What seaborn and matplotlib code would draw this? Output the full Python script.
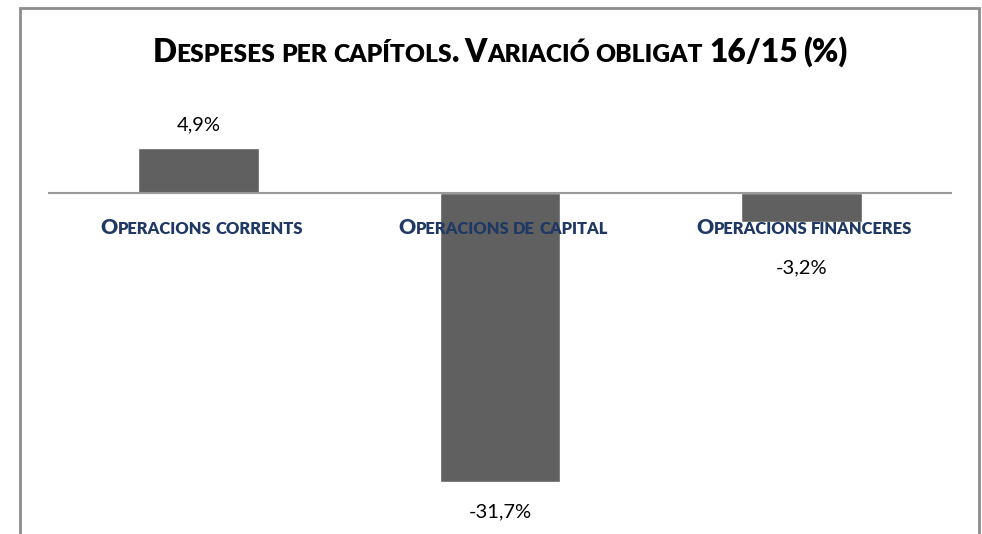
import matplotlib
matplotlib.use("Agg")
import matplotlib.pyplot as plt
import pandas as pd
import seaborn as sns
from matplotlib.patches import Rectangle

categories = ["Operacions corrents", "Operacions de capital", "Operacions financeres"]
values = [4.9, -31.7, -3.2]
value_labels = ["4,9%", "-31,7%", "-3,2%"]
title = "Despeses per capítols. Variació obligat 16/15 (%)"

W, H, DPI = 982, 534, 100
NAVY = "#1F3864"

sns.set_theme(style="white")
plt.rcParams["font.family"] = ["Lato", "DejaVu Sans"]


def text_width(fig, s, size, weight):
    r = fig.canvas.get_renderer()
    t = fig.text(0, 0, s, fontsize=size, weight=weight)
    w = t.get_window_extent(r).width
    t.remove()
    return w


def small_caps(fig, x_px, y_px, text, size, color, ratio=0.78, weight="bold"):
    """Fake small caps: lowercase letters drawn as smaller capitals."""
    tokens = []
    for ch in text:
        if ch == " ":
            kind = "space"
        elif ch.islower():
            kind = "small"
        else:
            kind = "big"
        s = ch.upper() if kind == "small" else ch
        if tokens and tokens[-1][1] == kind and kind != "space":
            tokens[-1][0] += s
        else:
            tokens.append([s, kind])

    small = size * ratio
    space_w = text_width(fig, "I I", small, weight) - text_width(fig, "II", small, weight)
    pieces = []
    total = 0
    for s, kind in tokens:
        fs = small if kind == "small" else size
        w = space_w if kind == "space" else text_width(fig, s, fs, weight)
        pieces.append((s, kind, fs, w))
        total += w

    x = x_px - total / 2
    for s, kind, fs, w in pieces:
        if kind != "space":
            fig.text(x / W, y_px / H, s, fontsize=fs, weight=weight, color=color,
                     ha="left", va="baseline")
        x += w


fig = plt.figure(figsize=(W / DPI, H / DPI), dpi=DPI)
ax = fig.add_axes([48 / W, 1 - 503 / H, 904 / W, 401 / H])

df = pd.DataFrame({"cat": categories, "val": values})
sns.barplot(data=df, x="cat", y="val", color="#606060", saturation=1,
            width=0.4, ax=ax)
ax.set_xlim(-0.5, 2.5)
ax.set_ylim(-34, 10)
ax.axis("off")
ax.axhline(0, color="#9a9a9a", lw=1.5, zorder=3)

# value labels (third one pushed below the category label, as in the source)
label_offsets = [24, -30, -46]
for i, (v, lab) in enumerate(zip(values, value_labels)):
    ax.annotate(lab, xy=(i, v), xytext=(0, label_offsets[i] * 72 / DPI),
                textcoords="offset points", ha="center", va="center",
                fontsize=14.5, color="black")

# category labels just under the zero line
for i, cat in enumerate(categories):
    x_px = ax.transData.transform((i, 0))[0]
    small_caps(fig, x_px + 3, H - 234, cat, 15.2, NAVY, weight="heavy")

small_caps(fig, 500, H - 62, title, 22.7, "black", weight="heavy")

fig.add_artist(Rectangle((20 / W, -0.05), 959 / W, 1.05 - 8 / H,
                         transform=fig.transFigure, fill=False,
                         edgecolor="#8c8c8c", lw=2))

fig.savefig("out.png", dpi=DPI)
plt.close(fig)
